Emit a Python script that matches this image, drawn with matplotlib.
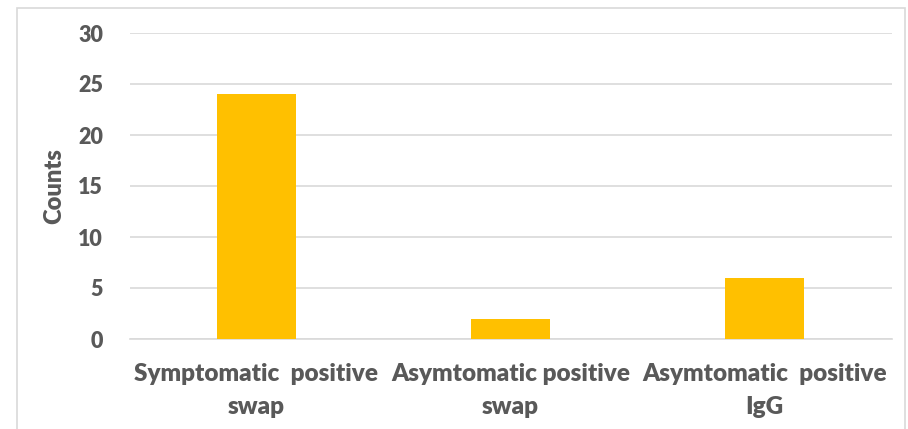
import matplotlib.pyplot as plt
from matplotlib.patches import Rectangle

# data
categories = ['Symptomatic  positive\nswap', 'Asymtomatic positive\nswap', 'Asymtomatic  positive\nIgG']
counts = [24, 2, 6]
yticks = [0, 5, 10, 15, 20, 25, 30]

plt.rcParams['font.family'] = ['Lato', 'DejaVu Sans']
text_color = '#595959'

W, H = 908, 429
fig = plt.figure(figsize=(W / 100, H / 100), dpi=100)

# outer border of chart area
fig.patches.append(Rectangle((17 / W, -0.05), (905 - 17) / W, 1.05 - 8 / H,
                             transform=fig.transFigure, fill=False,
                             edgecolor='#d9d9d9', linewidth=1.2))

ax = fig.add_axes([129.5 / W, 1 - 339 / H, (891.5 - 129.5) / W, (339 - 33) / H])
x = range(len(categories))
ax.bar(x, counts, width=0.31, color='#FFC000', zorder=3)

ax.set_xlim(-0.5, len(categories) - 0.5)
ax.set_ylim(0, 30)
ax.set_yticks(yticks)
ax.set_xticks(list(x))
ax.set_xticklabels(categories, fontsize=17.5, fontweight='heavy', color=text_color,
                   linespacing=1.65)
ax.set_yticklabels([str(v) for v in yticks], fontsize=15.5, fontweight='heavy', color=text_color)
ax.tick_params(axis='both', length=0)
ax.tick_params(axis='x', pad=17)
ax.tick_params(axis='y', pad=19)
ax.grid(axis='y', color='#d9d9d9', linewidth=1.2, zorder=0)
for s in ['top', 'right', 'left']:
    ax.spines[s].set_visible(False)
ax.spines['bottom'].set_color('#d9d9d9')
ax.spines['bottom'].set_linewidth(1.2)
ax.set_ylabel('Counts', fontsize=17, fontweight='heavy', color=text_color, labelpad=9)

fig.savefig('out.png', dpi=100)
